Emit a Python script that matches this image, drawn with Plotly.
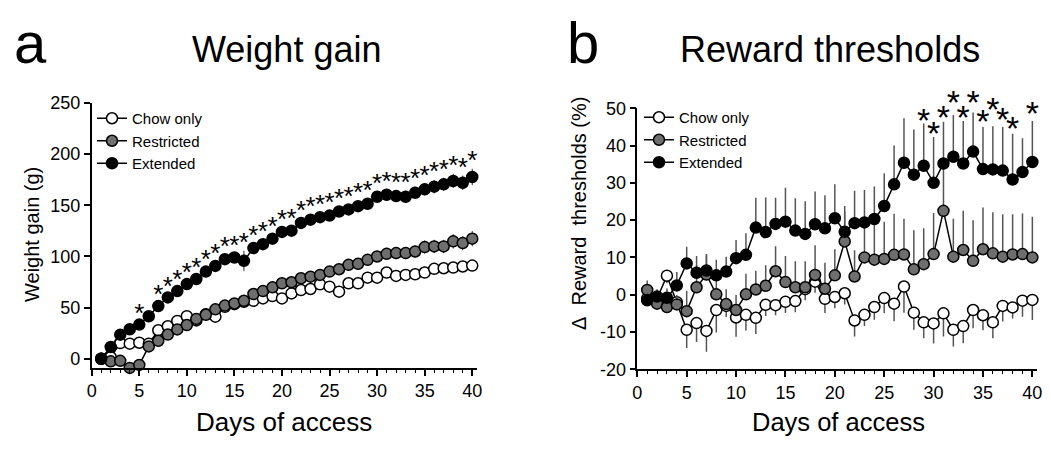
import plotly.graph_objects as go

FONT = "Liberation Sans, Arial, Helvetica, sans-serif"
# the page body keeps its default 8px margin, so the figure is 8px smaller each way
OFF = 8
W, H = 1050 - OFF, 452 - OFF

days = list(range(1, 41))
group_names = ["Chow only", "Restricted", "Extended"]

# ---- panel a: weight gain (g), mean and SEM
weight_chow = [0, 1.6, 15.4, 14.8, 15.7, 14.8, 27.9, 31.8, 37.0, 41.6,
               37.5, 43.6, 41.2, 50.8, 53.4, 55.7, 56.7, 59.0, 61.3, 59.0,
               63.9, 67.2, 68.2, 72.8, 70.5, 65.6, 73.8, 73.8, 79.3, 79.3,
               84.3, 81.0, 82.0, 82.6, 84.3, 87.9, 88.5, 89.2, 90.2, 91.1]
weight_chow_sem = [0, 2, 2, 2, 2, 2, 2.5, 2.5, 2.5, 2.5,
                   3, 3, 6, 3, 3, 3, 3, 3, 3.5, 3.5,
                   3.5, 3.5, 3.5, 4, 4, 5, 4, 4, 4, 4,
                   4, 4, 4.5, 4.5, 4.5, 4.5, 5, 5, 5, 5]
weight_restr = [0, -2.5, -2.0, -8.9, -6.0, 12.1, 17.6, 23.7, 28.7, 33.0,
                39.0, 43.0, 48.3, 52.0, 54.1, 56.7, 63.3, 66.2, 69.8, 73.8,
                74.8, 78.7, 80.3, 82.0, 85.2, 87.5, 91.8, 92.8, 96.7, 100.0,
                102.6, 103.3, 103.3, 104.9, 109.2, 109.8, 109.8, 114.8, 113.1, 117.4]
weight_restr_sem = [0, 2, 2, 2.5, 2.5, 3, 3, 3, 3, 3.5,
                    3.5, 3.5, 4, 4, 4, 4, 4, 4.5, 4.5, 4.5,
                    4.5, 5, 5, 5, 5, 5, 5.5, 5.5, 5.5, 5.5,
                    6, 6, 6, 6, 6.5, 6.5, 6.5, 7, 7, 7.5]
weight_ext = [0, 11.5, 23.6, 28.9, 33.4, 41.6, 51.5, 60.0, 66.2, 73.0,
              78.0, 85.2, 90.8, 97.4, 99.0, 95.7, 108.2, 112.0, 117.4, 124.0,
              125.2, 132.8, 136.0, 138.4, 140.0, 144.0, 146.0, 149.2, 151.5, 158.4,
              160.3, 159.0, 158.4, 162.3, 165.6, 168.2, 170.5, 173.8, 172.0, 177.7]
weight_ext_sem = [0, 2, 2.5, 3, 3, 3, 3, 3, 3, 3.5,
                  3.5, 4, 4, 4, 4, 10, 4, 4, 4, 4,
                  4, 4.5, 4.5, 4.5, 4.5, 4.5, 5, 5, 5, 5,
                  5.5, 5.5, 6, 6, 6, 6.5, 6.5, 7, 7, 8]
weight_sig_days = [5] + list(range(7, 41))

# ---- panel b: change in reward thresholds (%), mean and SEM
reward_chow = [-1.0, -1.0, 5.1, -2.0, -9.4, -7.6, -9.7, -4.1, -3.0, -6.1,
               -5.4, -6.2, -2.7, -2.8, -1.9, -1.7, 1.5, 3.5, -1.1, -0.6,
               0.4, -6.9, -5.4, -3.3, -0.9, -2.4, 2.2, -4.8, -7.4, -7.7,
               -5.0, -9.4, -8.4, -4.1, -5.5, -7.4, -3.0, -3.4, -1.6, -1.4]
reward_chow_sem = [2, 2, 2, 2, 4.9, 5.1, 5.6, 6, 3, 5.2,
                   4.2, 4.3, 3, 2.7, 3, 3, 3, 3, 3.8, 3,
                   3, 4.3, 3, 3.4, 4, 4.7, 7, 4.6, 4.3, 5.4,
                   6.2, 4.5, 4.6, 4.9, 4, 4.3, 4.2, 3, 4.3, 5.4]
reward_restr = [1.3, -2.4, -3.3, -2.6, -4.4, 2.0, 5.4, 0.1, -2.5, -4.1,
                0.1, 1.4, 2.4, 6.3, 3.4, 2.0, 2.0, 5.3, 1.6, 5.2,
                14.3, 4.9, 10.0, 9.4, 9.6, 10.7, 10.8, 6.8, 8.2, 10.9,
                22.5, 10.2, 12.0, 9.1, 12.2, 11.1, 10.2, 10.8, 10.9, 10.0]
reward_restr_sem = [2.5, 2.5, 2.5, 2.5, 5.5, 6, 5.5, 4, 4, 4,
                    5.5, 5, 5.5, 6.7, 7, 7, 7, 8, 7, 7,
                    8, 7, 10, 10, 10, 11, 9.6, 10.5, 9.6, 11,
                    13, 10.2, 10.5, 10.9, 11.2, 11, 11.4, 10.8, 10.9, 10.9]
reward_ext = [-1.5, -0.5, -0.8, 2.5, 8.4, 5.9, 6.5, 5.2, 6.2, 9.8,
              10.7, 18.0, 16.8, 19.0, 19.6, 17.2, 16.3, 18.9, 17.8, 20.5,
              16.9, 19.2, 19.4, 20.3, 23.8, 29.6, 35.4, 32.2, 34.6, 30.0,
              35.2, 37.0, 35.2, 38.4, 33.7, 33.6, 33.3, 30.9, 32.9, 35.6]
reward_ext_sem = [2, 2, 2.5, 3.6, 4.5, 4.5, 4, 4.2, 4, 4.9,
                  5.8, 8, 9.3, 7, 9.1, 8.7, 8.8, 8.8, 8.9, 9.1,
                  6.9, 8.7, 8.7, 8.7, 8.8, 10.4, 11.9, 12.1, 11.3, 12.3,
                  11.2, 11.2, 11.4, 10.5, 11.3, 11.6, 11.7, 12.3, 9.1, 11]
reward_sig_days = [29, 30, 31, 32, 33, 34, 35, 36, 37, 38, 40]
reward_sig_y = [47.9, 44.6, 48.8, 52.9, 48.8, 52.9, 47.7, 51.1, 48.4, 45.9, 49.9]

x_ticks = list(range(0, 41, 5))
weight_ticks = list(range(0, 251, 50))
reward_ticks = list(range(-20, 51, 10))
reward_range = [-20, 50]

fills = ["white", "#6e6e6e", "black"]


def px_x(p):
    return (p - OFF) / W


def px_y(p):
    return 1 - (p - OFF) / H


# pixel frame of panel b; the asterisks go on a hidden, taller axis with the same
# scale, because plotly hides text points that fall outside an axis range
b_top, b_bot, star_top = 108.3, 369.3, 60
per_px = (reward_range[1] - reward_range[0]) / (b_bot - b_top)
star_range = [reward_range[0], reward_range[0] + (b_bot - star_top) * per_px]

fig = go.Figure()

# panel a
weight_sets = [(weight_chow, weight_chow_sem), (weight_restr, weight_restr_sem),
               (weight_ext, weight_ext_sem)]
for name, fill, (m, s) in zip(group_names, fills, weight_sets):
    fig.add_trace(go.Scatter(
        x=days, y=m, name=name, mode="lines+markers", legend="legend",
        line=dict(color="black", width=1.5),
        marker=dict(size=11, color=fill, line=dict(color="black", width=1.5)),
        error_y=dict(type="data", array=s, symmetric=True, width=0,
                     thickness=1, color="#333333"),
        cliponaxis=False, xaxis="x", yaxis="y",
    ))

# asterisks sit just above the Extended error bar
star_y = [weight_ext[d - 1] + weight_ext_sem[d - 1] + 6 for d in weight_sig_days]
fig.add_trace(go.Scatter(
    x=weight_sig_days, y=star_y, mode="text", text=["*"] * len(weight_sig_days),
    textfont=dict(family=FONT, size=26, color="black"), showlegend=False,
    cliponaxis=False, xaxis="x", yaxis="y",
))

# panel b: Extended/Restricted bars drawn upward, Chow only downward
reward_sets = [(reward_chow, reward_chow_sem, "down"),
               (reward_restr, reward_restr_sem, "up"),
               (reward_ext, reward_ext_sem, "up")]
for name, fill, (m, s, side) in zip(group_names, fills, reward_sets):
    zeros = [0] * len(s)
    err = dict(type="data", symmetric=False, width=0, thickness=1.5, color="#555555",
               array=s if side == "up" else zeros,
               arrayminus=s if side == "down" else zeros)
    fig.add_trace(go.Scatter(
        x=days, y=m, name=name, mode="lines+markers", legend="legend2",
        line=dict(color="black", width=1.5),
        marker=dict(size=11, color=fill, line=dict(color="black", width=1.5)),
        error_y=err, cliponaxis=False, xaxis="x2", yaxis="y2",
    ))

# the "*" glyph renders ~0.23 em above its anchor, so drop the anchor by that much
star_font = 34
drop = 0.23 * star_font * per_px
fig.add_trace(go.Scatter(
    x=reward_sig_days, y=[v - drop for v in reward_sig_y],
    mode="text", text=["*"] * len(reward_sig_days),
    textfont=dict(family=FONT, size=star_font, color="black"), showlegend=False,
    cliponaxis=False, xaxis="x2", yaxis="y3",
))

axis_common = dict(
    showline=True, linecolor="black", linewidth=1.5, showgrid=False, zeroline=False,
    ticks="outside", ticklen=6, tickwidth=1.5, tickcolor="black", automargin=False,
    tickfont=dict(family=FONT, size=18, color="black"),
)
x_common = dict(
    axis_common, range=[0, 40.5], tickmode="array", tickvals=x_ticks,
    ticktext=[str(v) for v in x_ticks],
    minor=dict(dtick=1, tick0=0, ticks="outside", ticklen=3, tickwidth=1, tickcolor="black"),
)

fig.update_layout(
    width=W, height=H, margin=dict(l=0, r=0, t=0, b=0, autoexpand=False),
    # transparent plot area so the asterisk subplot does not cover panel b
    paper_bgcolor="white", plot_bgcolor="rgba(0,0,0,0)",
    font=dict(family=FONT, color="black"),
    xaxis=dict(x_common, domain=[px_x(91.7), px_x(477)], anchor="y"),
    yaxis=dict(axis_common, domain=[px_y(368), px_y(103)], anchor="x",
               range=[-9, 250], tickmode="array", tickvals=weight_ticks,
               ticktext=[str(v) for v in weight_ticks]),
    xaxis2=dict(x_common, domain=[px_x(637.3), px_x(1037.3)], anchor="y2"),
    yaxis2=dict(axis_common, domain=[px_y(b_bot), px_y(b_top)], anchor="x2",
                range=reward_range, tickmode="array", tickvals=reward_ticks,
                ticktext=[str(v) for v in reward_ticks]),
    yaxis3=dict(domain=[px_y(b_bot), px_y(star_top)], anchor="x2",
                range=star_range, visible=False, showgrid=False, zeroline=False),
    legend=dict(x=px_x(92), y=px_y(102), xanchor="left", yanchor="top",
                font=dict(family=FONT, size=15), bgcolor="rgba(0,0,0,0)",
                tracegroupgap=0, itemwidth=30),
    legend2=dict(x=px_x(639), y=px_y(101), xanchor="left", yanchor="top",
                 font=dict(family=FONT, size=15), bgcolor="rgba(0,0,0,0)",
                 tracegroupgap=0, itemwidth=30),
    showlegend=True,
)

texts = [
    ("a", 30, 43, 58, 0),
    ("Weight gain", 286, 49, 36, 0),
    ("b", 583, 42, 58, 0),
    ("Reward thresholds", 830, 49, 36, 0),
    ("Days of access", 284, 422, 26, 0),
    ("Days of access", 838, 422, 25.5, 0),
    ("Weight gain (g)", 32, 235, 20, -90),
    ("\u0394\u00a0 Reward\u00a0 thresholds (%)", 579, 214, 20, -90),
]
for txt, x, y, size, ang in texts:
    fig.add_annotation(
        text=txt, x=px_x(x), y=px_y(y), xref="paper", yref="paper",
        xanchor="center", yanchor="middle", showarrow=False, textangle=ang,
        font=dict(family=FONT, size=size, color="black"),
    )

fig.write_html("out.html")
